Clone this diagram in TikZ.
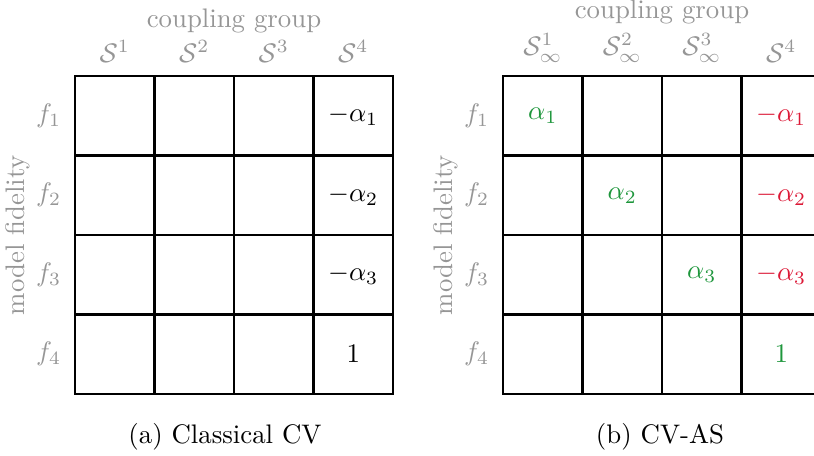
\documentclass[tikz,border=0pt]{standalone}
\usepackage{amsmath,amssymb}
\usepackage{xcolor}
\usetikzlibrary{positioning}

\definecolor{cvgreen}{RGB}{30,150,60}
\definecolor{cvred}{RGB}{220,25,55}
\definecolor{lblgray}{RGB}{150,150,150}

\begin{document}
\begin{tikzpicture}[
  x=0.0131cm, y=-0.0131cm,
  cell/.style={draw, line width=1pt, minimum size=1.041cm, inner sep=0pt},
  lbl/.style={text=lblgray},
  plusval/.style={text=cvgreen},
  minusval/.style={text=cvred}
]
\useasboundingbox (0,0) rectangle (814,455);

% (a) classical CV
\foreach \r in {1,...,4}
  \foreach \c in {1,...,4}
    \node[cell] (a\r\c) at ({75+79.5*(\c-0.5)},{76+79.5*(\r-0.5)}) {};
\foreach \r in {1,...,4}
  \node[lbl, left=0.4mm of a\r1] (fa\r) {$f_{\r}$};
\foreach \c in {1,...,4}
  \node[lbl, above=0.4mm of a1\c] (sa\c) {$\mathcal{S}^{\c}$};
\node[lbl] (cga) at (234,21) {coupling group};
\node[lbl, rotate=90] (mfa) at (18,235) {model fidelity};
\node at (a14) {$-\alpha_1$};
\node at (a24) {$-\alpha_2$};
\node at (a34) {$-\alpha_3$};
\node at (a44) {$1$};
\node (capa) at (225,437) {(a) Classical CV};

% (b) CV-AS
\foreach \r in {1,...,4}
  \foreach \c in {1,...,4}
    \node[cell] (b\r\c) at ({503+79.5*(\c-0.5)},{76+79.5*(\r-0.5)}) {};
\foreach \r in {1,...,4}
  \node[lbl, left=0.4mm of b\r1] (fb\r) {$f_{\r}$};
\foreach \c in {1,2,3}
  \node[lbl, above=0.4mm of b1\c] (sb\c) {$\mathcal{S}^{\c}_{\infty}$};
\node[lbl, above=0.4mm of b14] (sb4) {$\mathcal{S}^{4}$};
\node[lbl, inner sep=1pt] (cgb) at (662,12) {coupling group};
\node[lbl, rotate=90] (mfb) at (446,235) {model fidelity};
\node[plusval] at (b11) {$\alpha_1$};
\node[plusval] at (b22) {$\alpha_2$};
\node[plusval] at (b33) {$\alpha_3$};
\node[minusval] at (b14) {$-\alpha_1$};
\node[minusval] at (b24) {$-\alpha_2$};
\node[minusval] at (b34) {$-\alpha_3$};
\node[plusval] at (b44) {$1$};
\node (capb) at (660,437) {(b) CV-AS};
\end{tikzpicture}
\end{document}
